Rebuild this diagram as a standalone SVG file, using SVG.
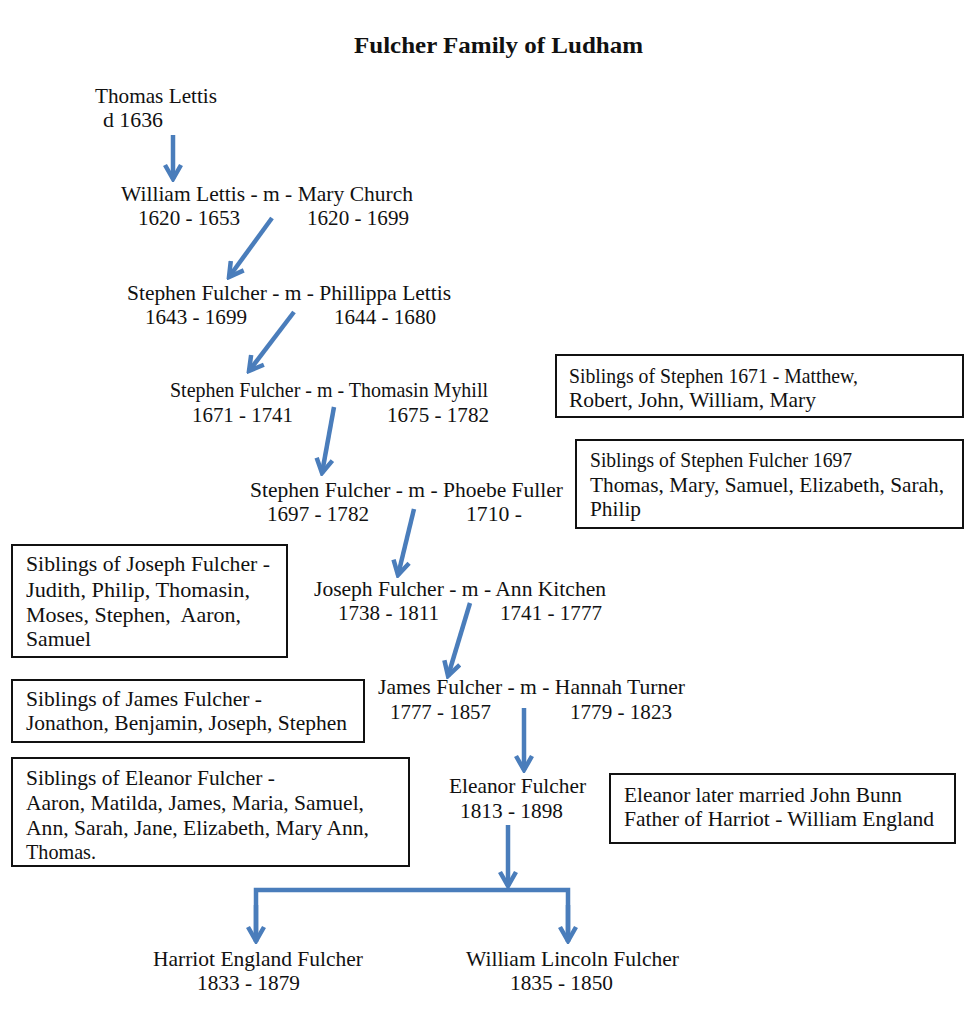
<svg xmlns="http://www.w3.org/2000/svg" width="980" height="1021" viewBox="0 0 980 1021">
<style>
text{font-family:"Liberation Serif","Times New Roman","DejaVu Serif",serif;font-size:21px;fill:#111}
.title{font-weight:bold;font-size:24px}
.box rect{fill:#fff;stroke:#111;stroke-width:2}
.c{fill:none;stroke:#4a7dbb;stroke-width:4.5}
</style>
<defs>
<marker id="ahb" viewBox="0 0 20 20" refX="17" refY="10" markerWidth="20" markerHeight="20" markerUnits="userSpaceOnUse" orient="auto">
<path d="M3,2 L17,10 L3,18" fill="none" stroke="#4a7dbb" stroke-width="4.5" stroke-linejoin="miter"/>
</marker>
</defs>
<rect width="980" height="1021" fill="#fff"/>
<text class="title" x="354" y="53" textLength="289" lengthAdjust="spacingAndGlyphs">Fulcher Family of Ludham</text>

<g id="connectors">
<path class="c" d="M173,135 L173,179" marker-end="url(#ahb)"/>
<path class="c" d="M272,218 L229,277" marker-end="url(#ahb)"/>
<path class="c" d="M294,312 L249,371" marker-end="url(#ahb)"/>
<path class="c" d="M334,407 L322,473" marker-end="url(#ahb)"/>
<path class="c" d="M414,509 L398,575" marker-end="url(#ahb)"/>
<path class="c" d="M470,603 L448,676" marker-end="url(#ahb)"/>
<path class="c" d="M524,708 L524,770" marker-end="url(#ahb)"/>
<path class="c" d="M508,825 L508,886" marker-end="url(#ahb)"/>
<path class="c" d="M256,942 L256,890 L568,890 L568,942" stroke-linejoin="miter"/>
<path class="c" d="M256,905 L256,941" marker-end="url(#ahb)"/>
<path class="c" d="M568,905 L568,941" marker-end="url(#ahb)"/>
</g>

<g id="thomas-lettis"><text x="95" y="103" textLength="122" lengthAdjust="spacingAndGlyphs">Thomas Lettis</text><text x="103" y="127" textLength="60" lengthAdjust="spacingAndGlyphs">d 1636</text></g>
<g id="william-lettis"><text x="121" y="201" textLength="292" lengthAdjust="spacingAndGlyphs">William Lettis - m - Mary Church</text><text x="138" y="225" textLength="102" lengthAdjust="spacingAndGlyphs">1620 - 1653</text><text x="307" y="225" textLength="102" lengthAdjust="spacingAndGlyphs">1620 - 1699</text></g>
<g id="stephen-1643"><text x="127" y="300" textLength="324" lengthAdjust="spacingAndGlyphs">Stephen Fulcher - m - Phillippa Lettis</text><text x="145" y="324" textLength="102" lengthAdjust="spacingAndGlyphs">1643 - 1699</text><text x="334" y="324" textLength="102" lengthAdjust="spacingAndGlyphs">1644 - 1680</text></g>
<g id="stephen-1671"><text x="170" y="397" textLength="318" lengthAdjust="spacingAndGlyphs">Stephen Fulcher - m - Thomasin Myhill</text><text x="192" y="422" textLength="101" lengthAdjust="spacingAndGlyphs">1671 - 1741</text><text x="387" y="422" textLength="102" lengthAdjust="spacingAndGlyphs">1675 - 1782</text></g>
<g id="stephen-1697"><text x="250" y="497" textLength="313" lengthAdjust="spacingAndGlyphs">Stephen Fulcher - m - Phoebe Fuller</text><text x="267" y="521" textLength="102" lengthAdjust="spacingAndGlyphs">1697 - 1782</text><text x="466" y="521" textLength="56" lengthAdjust="spacingAndGlyphs">1710 -</text></g>
<g id="joseph"><text x="314" y="596" textLength="292" lengthAdjust="spacingAndGlyphs">Joseph Fulcher - m - Ann Kitchen</text><text x="338" y="620" textLength="101" lengthAdjust="spacingAndGlyphs">1738 - 1811</text><text x="500" y="620" textLength="102" lengthAdjust="spacingAndGlyphs">1741 - 1777</text></g>
<g id="james"><text x="378" y="694" textLength="307" lengthAdjust="spacingAndGlyphs">James Fulcher - m - Hannah Turner</text><text x="390" y="719" textLength="101" lengthAdjust="spacingAndGlyphs">1777 - 1857</text><text x="570" y="719" textLength="102" lengthAdjust="spacingAndGlyphs">1779 - 1823</text></g>
<g id="eleanor"><text x="449" y="793" textLength="137" lengthAdjust="spacingAndGlyphs">Eleanor Fulcher</text><text x="460" y="818" textLength="103" lengthAdjust="spacingAndGlyphs">1813 - 1898</text></g>
<g id="harriot"><text x="153" y="966" textLength="210" lengthAdjust="spacingAndGlyphs">Harriot England Fulcher</text><text x="197" y="990" textLength="103" lengthAdjust="spacingAndGlyphs">1833 - 1879</text></g>
<g id="william-lincoln"><text x="466" y="966" textLength="213" lengthAdjust="spacingAndGlyphs">William Lincoln Fulcher</text><text x="510" y="990" textLength="103" lengthAdjust="spacingAndGlyphs">1835 - 1850</text></g>

<g id="box-stephen-1671" class="box"><rect x="556" y="355" width="407" height="62"/><text x="569" y="383" textLength="289" lengthAdjust="spacingAndGlyphs">Siblings of Stephen 1671 - Matthew,</text><text x="569" y="407" textLength="247" lengthAdjust="spacingAndGlyphs">Robert, John, William, Mary</text></g>
<g id="box-stephen-1697" class="box"><rect x="576" y="440" width="387" height="88"/><text x="590" y="467" textLength="262" lengthAdjust="spacingAndGlyphs">Siblings of Stephen Fulcher 1697</text><text x="590" y="492" textLength="354" lengthAdjust="spacingAndGlyphs">Thomas, Mary, Samuel, Elizabeth, Sarah,</text><text x="590" y="516" textLength="51" lengthAdjust="spacingAndGlyphs">Philip</text></g>
<g id="box-joseph" class="box"><rect x="12" y="545" width="275" height="112"/><text x="26" y="571" textLength="244" lengthAdjust="spacingAndGlyphs">Siblings of Joseph Fulcher -</text><text x="26" y="597" textLength="224" lengthAdjust="spacingAndGlyphs">Judith, Philip, Thomasin,</text><text x="26" y="622" textLength="215" lengthAdjust="spacingAndGlyphs" xml:space="preserve">Moses, Stephen,  Aaron,</text><text x="26" y="646" textLength="65" lengthAdjust="spacingAndGlyphs">Samuel</text></g>
<g id="box-james" class="box"><rect x="12" y="680" width="352" height="62"/><text x="26" y="706" textLength="236" lengthAdjust="spacingAndGlyphs">Siblings of James Fulcher -</text><text x="26" y="730" textLength="321" lengthAdjust="spacingAndGlyphs">Jonathon, Benjamin, Joseph, Stephen</text></g>
<g id="box-eleanor" class="box"><rect x="12" y="758" width="397" height="108"/><text x="26" y="785" textLength="249" lengthAdjust="spacingAndGlyphs">Siblings of Eleanor Fulcher -</text><text x="26" y="810" textLength="338" lengthAdjust="spacingAndGlyphs">Aaron, Matilda, James, Maria, Samuel,</text><text x="26" y="835" textLength="343" lengthAdjust="spacingAndGlyphs">Ann, Sarah, Jane, Elizabeth, Mary Ann,</text><text x="26" y="859" textLength="70" lengthAdjust="spacingAndGlyphs">Thomas.</text></g>
<g id="box-eleanor-note" class="box"><rect x="610" y="774" width="345" height="69"/><text x="624" y="802" textLength="278" lengthAdjust="spacingAndGlyphs">Eleanor later married John Bunn</text><text x="624" y="826" textLength="310" lengthAdjust="spacingAndGlyphs">Father of Harriot - William England</text></g>
</svg>
